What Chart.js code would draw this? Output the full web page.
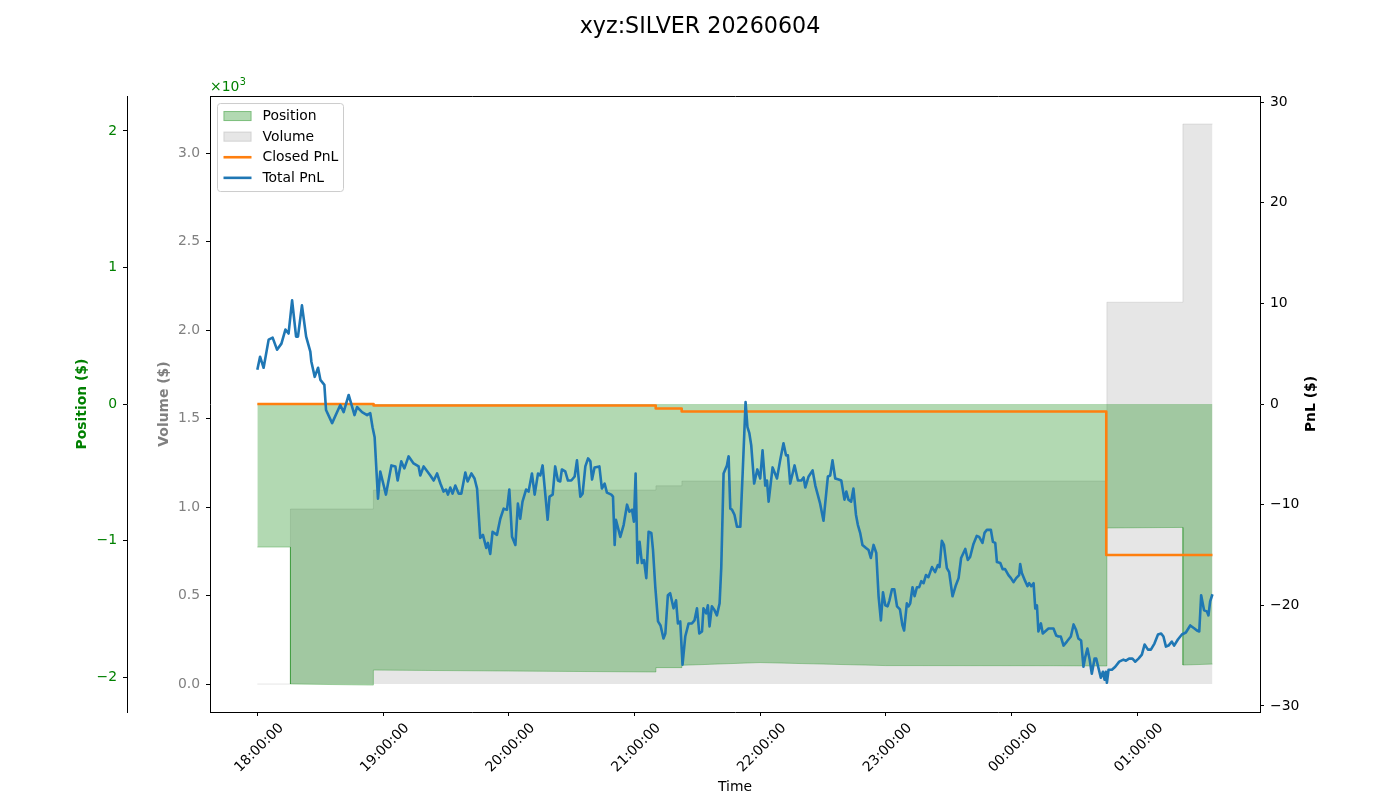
<!DOCTYPE html>
<html>
<head>
<meta charset="utf-8">
<title>xyz:SILVER 20260604</title>
<script src="https://cdn.jsdelivr.net/npm/chart.js@4.4.1/dist/chart.umd.min.js"></script>
<style>
  body { margin: 0; background: #fff; }
  canvas { display: block; }
</style>
</head>
<body>
<canvas id="chartId" width="1400" height="800"></canvas>
<script>
// times are minutes after 18:00:00
var pnlTimes = [
    0, 1.3, 3.0, 5.4, 7.3, 9.4, 11.5, 13.4, 14.9, 16.6,
    18.5, 19.4, 21.3, 23.3, 25.3, 25.8, 27.4, 29.0, 30.1, 32.0,
    32.8, 35.7, 39.6, 41.2, 43.6, 46.4, 47.6, 50.0, 52.4, 53.9,
    55.0, 56.0, 57.6, 58.7, 61.4, 64.0, 65.9, 67.0, 68.7, 70.2,
    72.2, 74.6, 77.0, 77.8, 79.4, 82.6, 84.2, 85.8, 87.4, 88.9,
    90.1, 91.0, 92.1, 93.2, 94.5, 96.1, 97.4, 99.3, 100.4, 102.2,
    103.7, 104.9, 106.4, 107.7, 109.3, 110.1, 111.2, 112.3, 114.4, 116.0,
    117.6, 119.2, 120.3, 121.6, 123.2, 124.4, 125.5, 126.6, 128.3, 129.5,
    131.1, 132.4, 134.0, 135.1, 136.2, 137.5, 138.6, 139.5, 141.0, 142.2,
    143.5, 144.6, 145.4, 147.0, 148.3, 149.9, 151.5, 152.6, 154.2, 155.3,
    156.6, 157.9, 159.0, 159.8, 161.0, 163.3, 164.5, 165.8, 166.9, 169.0,
    169.8, 170.6, 171.2, 173.3, 174.9, 176.5, 177.6, 178.9, 179.8, 180.6,
    181.5, 182.5, 183.6, 184.6, 185.7, 186.8, 188.1, 188.9, 190.0, 191.3,
    192.5, 193.9, 194.8, 196.0, 197.1, 198.7, 199.9, 200.8, 201.9, 203.0,
    204.3, 205.9, 207.5, 208.7, 209.9, 211.0, 212.3, 213.0, 214.3, 215.1,
    215.9, 217.0, 218.3, 219.4, 220.7, 221.5, 222.6, 224.2, 225.0, 225.8,
    226.6, 227.8, 229.0, 230.6, 231.7, 233.1, 234.0, 234.9, 235.8, 237.2,
    238.7, 240.1, 241.2, 242.5, 243.3, 244.1, 246.0, 248.1, 249.6, 251.2,
    252.4, 253.3, 254.4, 256.5, 258.1, 259.7, 260.8, 261.6, 263.2, 265.1,
    266.4, 268.7, 270.3, 272.4, 273.5, 274.6, 275.9, 277.5, 278.8, 280.3,
    281.2, 282.2, 283.5, 284.6, 285.8, 286.7, 287.8, 288.9, 290.6, 291.8,
    292.9, 294.2, 295.5, 296.6, 297.7, 298.7, 299.8, 300.9, 301.8, 303.0,
    304.1, 305.4, 306.8, 308.0, 308.8, 310.1, 310.9, 311.7, 312.8, 313.8,
    314.9, 316.0, 317.0, 318.1, 319.2, 320.4, 322.1, 323.6, 324.9, 325.7,
    326.8, 327.8, 329.2, 330.3, 331.9, 333.5, 334.8, 336.0, 338.0, 339.2,
    340.3, 341.9, 343.5, 344.6, 346.2, 347.2, 348.3, 350.2, 351.2, 352.3,
    353.1, 354.7, 355.8, 357.0, 358.6, 359.8, 361.0, 362.3, 363.7, 364.2,
    365.0, 366.6, 367.7, 368.5, 369.5, 370.6, 371.4, 372.2, 372.9, 374.1,
    375.0, 376.1, 377.7, 380.1, 381.4, 382.5, 383.6, 384.9, 386.5, 388.4,
    389.7, 390.8, 392.0, 393.3, 394.4, 395.2, 396.3, 397.3, 398.4, 399.7,
    400.5, 401.9, 402.7, 403.7, 404.5, 405.1, 405.6, 406.4, 408.0, 409.6,
    411.5, 413.5, 414.7, 416.2, 417.8, 419.1, 420.7, 422.3, 423.6, 425.2,
    426.6, 428.3, 430.0, 431.5, 432.6, 433.8, 435.0, 436.6, 437.7, 439.5,
    441.4, 443.3, 445.4, 447.4, 448.6, 449.7, 450.6, 452.0, 453.3, 454.1,
    454.9, 456.0
];
var totalPnl = [
    3.4, 4.7, 3.6, 6.4, 6.6, 5.4, 6.0, 7.4, 7.0, 10.3,
    6.7, 6.7, 9.8, 6.7, 5.2, 4.2, 2.7, 3.6, 2.4, 1.9,
    -0.6, -1.9, -0.1, -0.8, 0.9, -1.1, -0.3, -0.8, -1.1, -0.9,
    -2.3, -3.3, -9.4, -6.7, -9.0, -6.1, -6.2, -7.6, -5.7, -6.4,
    -5.2, -5.9, -6.2, -7.1, -6.2, -7.1, -7.6, -6.9, -7.9, -8.7,
    -8.5, -9.0, -8.3, -8.9, -8.1, -8.9, -8.9, -6.8, -7.7, -6.9,
    -7.4, -8.4, -13.3, -13.0, -14.3, -13.8, -14.9, -12.7, -13.0, -11.4,
    -10.4, -10.5, -8.5, -13.2, -14.0, -9.9, -11.4, -9.7, -8.5, -8.7,
    -6.9, -9.0, -6.9, -7.1, -6.1, -9.0, -11.5, -9.2, -9.0, -6.2,
    -7.6, -7.7, -6.5, -6.7, -7.6, -7.6, -7.2, -5.6, -9.2, -8.9,
    -6.2, -5.4, -5.7, -7.5, -6.3, -6.2, -8.4, -7.9, -8.8, -9.0,
    -9.2, -14.0, -11.5, -13.2, -12.0, -10.0, -10.7, -10.5, -11.7, -6.9,
    -15.8, -13.7, -15.8, -15.5, -17.3, -12.7, -12.8, -14.5, -18.2, -21.6,
    -22.0, -23.3, -22.8, -19.0, -18.8, -20.3, -19.5, -21.8, -21.6, -25.9,
    -23.1, -21.8, -21.8, -21.5, -20.3, -22.8, -22.6, -20.3, -20.8, -20.0,
    -22.1, -20.1, -20.5, -21.0, -19.8, -16.2, -6.9, -6.1, -5.2, -10.4,
    -10.5, -11.0, -12.2, -12.2, -6.9, 0.2, -2.3, -2.9, -4.1, -7.9,
    -6.5, -7.4, -4.6, -8.1, -7.6, -9.7, -6.3, -7.4, -5.6, -3.9,
    -5.1, -5.1, -7.9, -6.1, -7.6, -7.6, -7.3, -8.3, -7.2, -6.6,
    -8.1, -9.9, -11.6, -7.2, -7.1, -5.6, -7.4, -7.5, -7.6, -9.5,
    -8.7, -9.5, -9.7, -8.4, -11.0, -12.0, -12.8, -14.0, -14.3, -14.5,
    -15.3, -14.0, -14.8, -19.1, -21.5, -18.7, -20.0, -20.1, -19.5, -18.4,
    -18.4, -20.1, -20.4, -22.0, -22.5, -19.8, -20.1, -19.8, -18.2, -19.1,
    -18.2, -18.2, -17.6, -17.8, -17.0, -17.2, -16.2, -16.7, -16.0, -16.2,
    -13.6, -14.0, -16.3, -16.7, -19.1, -18.0, -17.3, -15.3, -14.4, -15.5,
    -15.2, -13.9, -13.1, -13.2, -13.8, -12.8, -12.5, -12.5, -13.7, -13.8,
    -15.7, -15.8, -16.4, -16.4, -17.0, -17.3, -17.7, -17.3, -17.0, -15.9,
    -16.8, -17.6, -18.1, -17.8, -18.1, -17.8, -20.3, -20.0, -22.6, -21.8,
    -22.8, -22.6, -22.3, -22.3, -23.0, -23.1, -23.1, -24.0, -23.6, -23.1,
    -21.9, -22.4, -23.3, -23.5, -26.1, -25.2, -24.3, -25.3, -26.8, -25.3,
    -25.3, -26.5, -27.2, -26.6, -27.4, -26.6, -27.7, -26.4, -26.4, -26.1,
    -25.6, -25.4, -25.5, -25.3, -25.3, -25.6, -25.3, -24.9, -23.9, -24.4,
    -24.4, -23.8, -22.9, -22.8, -23.1, -24.1, -24.0, -23.6, -24.0, -23.4,
    -22.9, -22.7, -22.0, -22.3, -22.5, -22.6, -19.0, -20.5, -20.6, -21.0,
    -19.6, -18.9
];

var closedTimes = [0, 55.5, 55.5, 190.2, 190.2, 202.6, 202.6, 405.3, 405.3, 456.0];
var closedPnl = [0, 0, -0.15, -0.15, -0.45, -0.45, -0.75, -0.75, -15.0, -15.0];

var posTimes = [0, 15.8, 15.8, 55.4, 55.4, 120, 190.3, 190.3, 202.7, 202.7, 240, 300, 380, 405.6, 405.6, 441.9, 441.9, 456.0];
var positionUsd = [-1048, -1048, -2051, -2059, -1949, -1956, -1963, -1931, -1931, -1914, -1894, -1916, -1917, -1919, -908, -904, -1912, -1905];

var volTimes = [0, 15.8, 15.8, 55.4, 55.4, 190.3, 190.3, 202.7, 202.7, 405.6, 405.6, 441.9, 441.9, 456.0];
var volumeUsd = [0, 0, 989, 989, 1096, 1096, 1120, 1120, 1147, 1147, 2157, 2157, 3164, 3164];

var timeTicks = [0, 60, 120, 180, 240, 300, 360, 420];
var timeLabels = ['18:00:00', '19:00:00', '20:00:00', '21:00:00', '22:00:00', '23:00:00', '00:00:00', '01:00:00'];
var posTicks = [-2000, -1000, 0, 1000, 2000];
var volTicks = [0, 500, 1000, 1500, 2000, 2500, 3000];
var pnlTicks = [-30, -20, -10, 0, 10, 20, 30];

var FONT = 'DejaVu Sans';
var FS = 13.9;

function toPoints(xs, ys) {
    return xs.map(function (x, i) { return {x: x, y: ys[i]}; });
}

function minus(s) {
    return String(s).replace('-', '\u2212');
}

function fixedTicks(list) {
    return function (scale) {
        scale.ticks = list.map(function (v) { return {value: v}; });
    };
}

var tickGrid = {drawOnChartArea: false, drawTicks: true, tickLength: 4, tickColor: '#000', tickWidth: 1};
var spine = {display: true, color: '#000', width: 1};

// top spine, legend inside the axes, offset text and right axis label
var overlay = {
    id: 'overlay',
    afterDraw: function (chart) {
        var ctx = chart.ctx;
        var area = chart.chartArea;
        ctx.save();

        ctx.strokeStyle = '#000';
        ctx.lineWidth = 1;
        ctx.beginPath();
        ctx.moveTo(area.left, Math.round(area.top) + 0.5);
        ctx.lineTo(area.right + 1, Math.round(area.top) + 0.5);
        ctx.stroke();

        // legend box
        var lx = area.left + 7.5, ly = area.top + 7.5, lw = 126, lh = 88, r = 3;
        ctx.beginPath();
        ctx.moveTo(lx + r, ly);
        ctx.lineTo(lx + lw - r, ly);
        ctx.arcTo(lx + lw, ly, lx + lw, ly + r, r);
        ctx.lineTo(lx + lw, ly + lh - r);
        ctx.arcTo(lx + lw, ly + lh, lx + lw - r, ly + lh, r);
        ctx.lineTo(lx + r, ly + lh);
        ctx.arcTo(lx, ly + lh, lx, ly + lh - r, r);
        ctx.lineTo(lx, ly + r);
        ctx.arcTo(lx, ly, lx + r, ly, r);
        ctx.closePath();
        ctx.fillStyle = 'rgba(255,255,255,0.8)';
        ctx.fill();
        ctx.strokeStyle = '#cccccc';
        ctx.stroke();

        var items = [
            {label: 'Position', kind: 'box', color: 'rgba(0,128,0,0.3)'},
            {label: 'Volume', kind: 'box', color: 'rgba(128,128,128,0.2)'},
            {label: 'Closed PnL', kind: 'line', color: '#ff7f0e'},
            {label: 'Total PnL', kind: 'line', color: '#1f77b4'}
        ];
        ctx.font = FS + 'px "' + FONT + '"';
        ctx.textBaseline = 'middle';
        ctx.textAlign = 'left';
        items.forEach(function (it, i) {
            var cy = ly + 12.5 + i * 20.6;
            var hx = lx + 6;
            if (it.kind === 'box') {
                ctx.fillStyle = it.color;
                ctx.fillRect(hx, cy - 5, 28, 10);
                ctx.strokeStyle = it.color;
                ctx.lineWidth = 1;
                ctx.strokeRect(hx + 0.5, cy - 4.5, 27, 9);
            } else {
                ctx.strokeStyle = it.color;
                ctx.lineWidth = 2.6;
                ctx.beginPath();
                ctx.moveTo(hx, cy);
                ctx.lineTo(hx + 28, cy);
                ctx.stroke();
            }
            ctx.fillStyle = '#000';
            ctx.fillText(it.label, lx + 45, cy + 0.5);
        });

        // offset text of the position axis
        ctx.fillStyle = 'green';
        ctx.textBaseline = 'alphabetic';
        ctx.font = FS + 'px "' + FONT + '"';
        ctx.fillText('\u00d710', area.left, area.top - 5);
        var w = ctx.measureText('\u00d710').width;
        ctx.font = '9.7px "' + FONT + '"';
        ctx.fillText('3', area.left + w + 0.5, area.top - 11);

        // right axis label
        ctx.translate(1311, (area.top + area.bottom) / 2);
        ctx.rotate(-Math.PI / 2);
        ctx.textAlign = 'center';
        ctx.textBaseline = 'middle';
        ctx.fillStyle = '#000';
        ctx.font = 'bold ' + FS + 'px "' + FONT + '"';
        ctx.fillText('PnL ($)', 0, 0);
        ctx.restore();
    }
};

var chrt = document.getElementById('chartId').getContext('2d');
var chartId = new Chart(chrt, {
    type: 'line',
    data: {
        datasets: [{
            label: 'Volume',
            data: toPoints(volTimes, volumeUsd),
            yAxisID: 'yVol',
            fill: {value: 0},
            backgroundColor: 'rgba(128,128,128,0.2)',
            borderColor: 'rgba(128,128,128,0.2)',
            borderWidth: 1,
            order: 4
        }, {
            label: 'Position',
            data: toPoints(posTimes, positionUsd),
            yAxisID: 'yPos',
            fill: {value: 0},
            backgroundColor: 'rgba(0,128,0,0.3)',
            borderColor: 'rgba(0,128,0,0.3)',
            borderWidth: 1,
            order: 3
        }, {
            label: 'Closed PnL',
            data: toPoints(closedTimes, closedPnl),
            yAxisID: 'yPnl',
            fill: false,
            borderColor: '#ff7f0e',
            borderWidth: 2.6,
            order: 2
        }, {
            label: 'Total PnL',
            data: toPoints(pnlTimes, totalPnl),
            yAxisID: 'yPnl',
            fill: false,
            borderColor: '#1f77b4',
            borderWidth: 2.6,
            order: 1
        }]
    },
    options: {
        responsive: false,
        animation: false,
        layout: {padding: 0},
        elements: {
            point: {radius: 0, hoverRadius: 0},
            line: {tension: 0, borderJoinStyle: 'round'}
        },
        plugins: {
            legend: {display: false},
            tooltip: {enabled: false},
            title: {
                display: true,
                text: 'xyz:SILVER 20260604',
                color: '#000',
                font: {family: FONT, size: 22.2, weight: 'normal'},
                padding: {top: 13.7, bottom: 55.7}
            }
        },
        scales: {
            x: {
                type: 'linear',
                position: 'bottom',
                min: -22.6,
                max: 478.7,
                afterBuildTicks: fixedTicks(timeTicks),
                afterFit: function (s) { s.height = 88; },
                ticks: {
                    color: '#000',
                    font: {family: FONT, size: FS},
                    minRotation: 45,
                    maxRotation: 45,
                    autoSkip: false,
                    labelOffset: 24,
                    padding: 4,
                    callback: function (v, i) { return timeLabels[i]; }
                },
                grid: tickGrid,
                border: spine,
                title: {display: true, text: 'Time', color: '#000', font: {family: FONT, size: FS}, padding: {top: 4, bottom: 4}}
            },
            yPos: {
                type: 'linear',
                position: 'left',
                weight: 2,
                min: -2256,
                max: 2256,
                afterBuildTicks: fixedTicks(posTicks),
                afterFit: function (s) { s.width = 127; },
                ticks: {
                    color: 'green',
                    font: {family: FONT, size: FS},
                    padding: 6,
                    callback: function (v) { return minus(v / 1000); }
                },
                grid: tickGrid,
                border: spine,
                title: {display: true, text: 'Position ($)', color: 'green', font: {family: FONT, size: FS, weight: 'bold'}, padding: {top: 74, bottom: 4}}
            },
            yVol: {
                type: 'linear',
                position: 'left',
                weight: 1,
                min: -158,
                max: 3322,
                afterBuildTicks: fixedTicks(volTicks),
                afterFit: function (s) { s.width = 83; },
                ticks: {
                    color: 'gray',
                    font: {family: FONT, size: FS},
                    padding: 6,
                    callback: function (v) { return (v / 1000).toFixed(1); }
                },
                grid: tickGrid,
                border: spine,
                title: {display: true, text: 'Volume ($)', color: 'gray', font: {family: FONT, size: FS, weight: 'bold'}, padding: {top: 29, bottom: 4}}
            },
            yPnl: {
                type: 'linear',
                position: 'right',
                min: -30.6,
                max: 30.6,
                afterBuildTicks: fixedTicks(pnlTicks),
                afterFit: function (s) { s.width = 140; },
                ticks: {
                    color: '#000',
                    font: {family: FONT, size: FS},
                    padding: 6,
                    callback: function (v) { return minus(v); }
                },
                grid: tickGrid,
                border: spine
            }
        }
    },
    plugins: [overlay]
});
</script>
</body>
</html>
